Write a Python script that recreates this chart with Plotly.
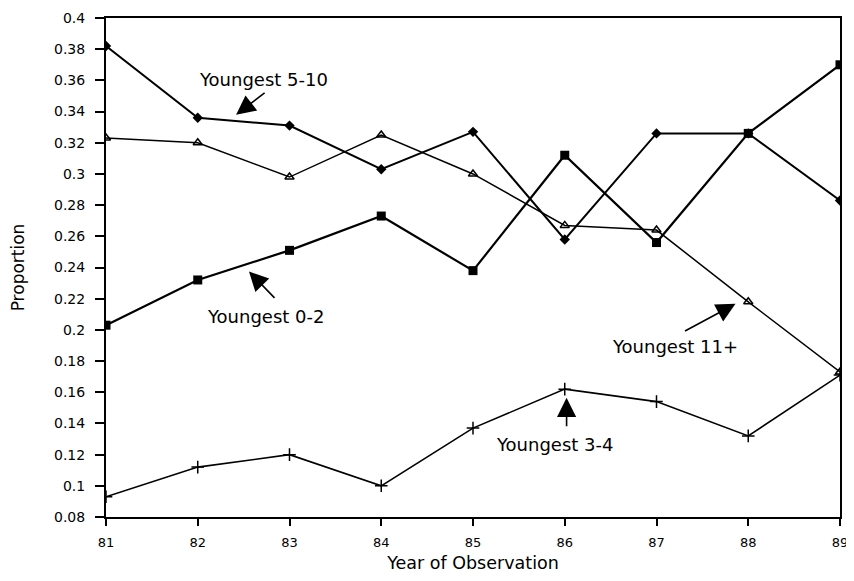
import plotly.graph_objects as go

years = [81, 82, 83, 84, 85, 86, 87, 88, 89]
youngest_0_2 = [0.203, 0.232, 0.251, 0.273, 0.238, 0.312, 0.256, 0.326, 0.370]
youngest_3_4 = [0.093, 0.112, 0.120, 0.100, 0.137, 0.162, 0.154, 0.132, 0.171]
youngest_5_10 = [0.382, 0.336, 0.331, 0.303, 0.327, 0.258, 0.326, 0.326, 0.283]
youngest_11_plus = [0.323, 0.320, 0.298, 0.325, 0.300, 0.267, 0.264, 0.218, 0.173]

y_tick_vals = [0.08, 0.1, 0.12, 0.14, 0.16, 0.18, 0.2, 0.22, 0.24, 0.26, 0.28,
               0.3, 0.32, 0.34, 0.36, 0.38, 0.4]
y_tick_text = ["0.08", "0.1", "0.12", "0.14", "0.16", "0.18", "0.2", "0.22", "0.24",
               "0.26", "0.28", "0.3", "0.32", "0.34", "0.36", "0.38", "0.4"]

FONT = "DejaVu Sans, Arial, sans-serif"

fig = go.Figure()
fig.add_trace(go.Scatter(x=years, y=youngest_5_10, mode="lines+markers", name="Youngest 5-10",
                         line=dict(color="black", width=2),
                         marker=dict(symbol="diamond", size=8, color="black")))
fig.add_trace(go.Scatter(x=years, y=youngest_11_plus, mode="lines+markers", name="Youngest 11+",
                         line=dict(color="black", width=1.5),
                         marker=dict(symbol="triangle-up-open", size=8, color="black",
                                     line=dict(width=1.5, color="black"))))
fig.add_trace(go.Scatter(x=years, y=youngest_0_2, mode="lines+markers", name="Youngest 0-2",
                         line=dict(color="black", width=2.2),
                         marker=dict(symbol="square", size=9, color="black")))
fig.add_trace(go.Scatter(x=years, y=youngest_3_4, mode="lines+markers", name="Youngest 3-4",
                         line=dict(color="black", width=1.6),
                         marker=dict(symbol="cross-thin", size=9, color="black",
                                     line=dict(width=1.5, color="black"))))

# labels with arrows (text and arrows as separate annotations)
labels = [
    dict(text="Youngest 5-10", x=82.72, y=0.3605),
    dict(text="Youngest 0-2", x=82.74, y=0.2086),
    dict(text="Youngest 11+", x=87.20, y=0.1893),
    dict(text="Youngest 3-4", x=85.89, y=0.1262),
]
for lb in labels:
    fig.add_annotation(x=lb["x"], y=lb["y"], text=lb["text"], showarrow=False,
                       xanchor="center", yanchor="middle",
                       font=dict(family=FONT, size=18, color="black"))

arrows = [
    dict(x=82.418, y=0.338, ax=30, ay=-23),
    dict(x=82.558, y=0.2375, ax=27, ay=28),
    dict(x=87.861, y=0.2167, ax=-52, ay=28),
    dict(x=86.02, y=0.1564, ax=0, ay=30),
]
for ar in arrows:
    fig.add_annotation(x=ar["x"], y=ar["y"], ax=ar["ax"], ay=ar["ay"], text="",
                       showarrow=True, arrowhead=2, arrowsize=2.4, arrowwidth=1.6,
                       arrowcolor="black", standoff=0, startstandoff=0)

# page has an 8px body margin; keep the whole page within the 854x581 window
fig.update_layout(
    width=846, height=565,
    margin=dict(l=98, r=14, t=10, b=56),
    paper_bgcolor="white", plot_bgcolor="white",
    showlegend=False,
    font=dict(family=FONT, color="black"),
    xaxis=dict(range=[81, 89], tickvals=years, ticktext=[str(y) for y in years],
               showline=True, linecolor="black", linewidth=2, mirror=True,
               ticks="outside", ticklen=7, tickwidth=1.5, tickcolor="black",
               showgrid=False, zeroline=False, automargin=False,
               ticklabelstandoff=5, ticklabeloverflow="allow",
               tickfont=dict(family=FONT, size=13, color="black"),
               title=dict(text="Year of Observation", standoff=28,
                          font=dict(family=FONT, size=17.5, color="black"))),
    yaxis=dict(range=[0.08, 0.4], tickvals=y_tick_vals, ticktext=y_tick_text,
               showline=True, linecolor="black", linewidth=2, mirror=True,
               ticks="outside", ticklen=9, tickwidth=1.5, tickcolor="black",
               showgrid=False, zeroline=False, automargin=False,
               ticklabelstandoff=7, ticklabeloverflow="allow",
               tickfont=dict(family=FONT, size=14, color="black"),
               title=dict(text="Proportion", standoff=38,
                          font=dict(family=FONT, size=17, color="black"))),
)

fig.write_html("out.html")
